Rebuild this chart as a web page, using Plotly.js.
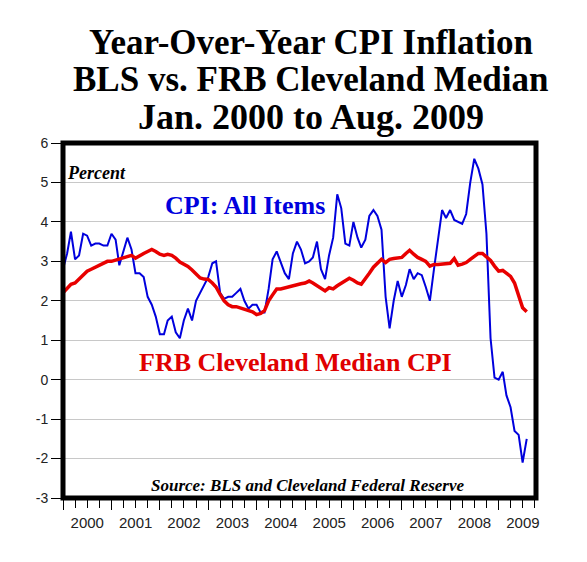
<!DOCTYPE html>
<html>
<head>
<meta charset="utf-8">
<script src="https://cdn.plot.ly/plotly-3.0.1.min.js"></script>
<style>html,body{margin:0;padding:0;background:#fff;}#chart{width:587px;height:562px;}</style>
</head>
<body>
<div id="chart"></div>
<script>
// Monthly year-over-year % change, Jan 2000 .. Aug 2009
const startYear = 2000;
const cpiAllItems = [
  2.8, 3.2, 3.75, 3.05, 3.15, 3.7, 3.65, 3.4, 3.45, 3.45, 3.4, 3.4,
  3.7, 3.55, 2.9, 3.25, 3.6, 3.3, 2.7, 2.7, 2.6, 2.1, 1.9, 1.6,
  1.15, 1.15, 1.5, 1.6, 1.2, 1.05, 1.5, 1.8, 1.5, 2.0, 2.2, 2.4,
  2.6, 2.95, 3.0, 2.2, 2.05, 2.1, 2.1, 2.2, 2.3, 2.0, 1.8, 1.9,
  1.9, 1.7, 1.7, 2.3, 3.05, 3.25, 3.0, 2.7, 2.55, 3.2, 3.5, 3.3,
  2.95, 3.0, 3.1, 3.5, 2.8, 2.55, 3.15, 3.6, 4.7, 4.35, 3.45, 3.4,
  4.0, 3.6, 3.35, 3.55, 4.15, 4.3, 4.15, 3.8, 2.1, 1.3, 2.0, 2.5,
  2.1, 2.4, 2.8, 2.55, 2.7, 2.65, 2.35, 2.0, 2.8, 3.5, 4.3, 4.1,
  4.3, 4.05, 4.0, 3.95, 4.2, 5.0, 5.6, 5.35, 4.95, 3.7, 1.05, 0.05,
  0.0, 0.2, -0.4, -0.7, -1.3, -1.4, -2.1, -1.5
];
const medianCPI = [
  2.2, 2.3, 2.42, 2.45, 2.55, 2.65, 2.75, 2.8, 2.85, 2.9, 2.97, 3.0,
  3.0, 3.03, 3.05, 3.1, 3.13, 3.15, 3.08, 3.15, 3.2, 3.25, 3.3, 3.25,
  3.18, 3.15, 3.18, 3.15, 3.08, 2.98, 2.92, 2.87, 2.78, 2.68, 2.58, 2.55,
  2.54, 2.45, 2.35, 2.16, 2.0, 1.9, 1.85, 1.85, 1.82, 1.8, 1.75, 1.72,
  1.65, 1.68, 1.75, 2.0, 2.15, 2.3, 2.3, 2.33, 2.35, 2.38, 2.4, 2.43,
  2.45, 2.5, 2.45, 2.38, 2.3, 2.25, 2.33, 2.3, 2.38, 2.45, 2.52, 2.57,
  2.52, 2.45, 2.42, 2.55, 2.7, 2.85, 2.95, 3.05, 2.97, 3.05, 3.07, 3.08,
  3.1, 3.2, 3.28, 3.18, 3.1, 3.05, 3.0, 2.88, 2.92, 2.92, 2.93, 2.95,
  2.95, 3.07, 2.9, 2.93, 2.97, 3.05, 3.12, 3.2, 3.2, 3.1, 3.02, 2.88,
  2.75, 2.77, 2.7, 2.62, 2.45, 2.15, 1.82, 1.72
];
const yTickVals = [-3, -2, -1, 0, 1, 2, 3, 4, 5, 6];
const titleLines = ['Year-Over-Year CPI Inflation', 'BLS vs. FRB Cleveland Median', 'Jan. 2000 to Aug. 2009'];

const months = cpiAllItems.map((_, i) => {
  const y = startYear + Math.floor(i / 12);
  const m = (i % 12) + 1;
  return y + '-' + (m < 10 ? '0' + m : m) + '-01';
});

const serif = 'Liberation Serif, Times New Roman, serif';
const sans = 'Liberation Sans, Arial, sans-serif';

const traces = [
  {x: months, y: cpiAllItems, type: 'scatter', mode: 'lines', name: 'CPI: All Items',
   line: {color: '#0000dd', width: 2}, hoverinfo: 'x+y'},
  {x: months, y: medianCPI, type: 'scatter', mode: 'lines', name: 'FRB Cleveland Median CPI',
   line: {color: '#e80000', width: 3.5}, hoverinfo: 'x+y'}
];

const titleY = [1.283, 1.18, 1.072];
const titleSize = [35, 35, 36];
const annotations = titleLines.map((t, i) => ({
  text: '<b>' + t + '</b>', xref: 'paper', yref: 'paper', x: 0.524, y: titleY[i],
  xanchor: 'center', yanchor: 'middle', showarrow: false,
  font: {family: serif, size: titleSize[i], color: '#000'}
}));
annotations.push(
  {text: '<b><i>Percent</i></b>', xref: 'paper', yref: 'paper', x: 0.004, y: 0.915,
   xanchor: 'left', yanchor: 'middle', showarrow: false, font: {family: serif, size: 18, color: '#000'}},
  {text: '<b>CPI: All Items</b>', xref: 'paper', yref: 'paper', x: 0.384, y: 0.825,
   xanchor: 'center', yanchor: 'middle', showarrow: false, font: {family: serif, size: 26, color: '#0000dd'}},
  {text: '<b>FRB Cleveland Median CPI</b>', xref: 'paper', yref: 'paper', x: 0.491, y: 0.383,
   xanchor: 'center', yanchor: 'middle', showarrow: false, font: {family: serif, size: 26, color: '#e00000'}},
  {text: '<b><i>Source: BLS and Cleveland Federal Reserve</i></b>', xref: 'paper', yref: 'paper', x: 0.517, y: 0.034,
   xanchor: 'center', yanchor: 'middle', showarrow: false, font: {family: serif, size: 17, color: '#000'}}
);

const layout = {
  width: 587, height: 562,
  margin: {l: 63, r: 50.5, t: 143, b: 64},
  paper_bgcolor: '#fff', plot_bgcolor: '#fff',
  showlegend: false,
  xaxis: {
    type: 'date', range: ['2000-01-01', '2009-10-10'],
    tick0: '2000-01-01', dtick: 'M12', tickformat: '%Y', ticklabelmode: 'period',
    ticks: 'outside', ticklen: 11, tickwidth: 1, tickcolor: '#000',
    minor: {dtick: 'M3', ticks: 'outside', ticklen: 9, tickwidth: 1, tickcolor: '#000', showgrid: false},
    showgrid: false, zeroline: false, showline: false,
    tickfont: {family: sans, size: 15, color: '#222'}
  },
  yaxis: {
    range: [-3, 6], tickvals: yTickVals, ticktext: yTickVals.map(String),
    ticks: 'outside', ticklen: 11, tickwidth: 1, tickcolor: '#000',
    showgrid: true, gridcolor: '#c8c8c8', gridwidth: 1, zeroline: false, showline: false,
    tickfont: {family: sans, size: 14, color: '#222'}
  },
  shapes: [
    {type: 'rect', xref: 'paper', yref: 'paper', x0: 0, x1: 1, y0: 0, y1: 1,
     line: {color: '#000', width: 5}, fillcolor: 'rgba(0,0,0,0)', layer: 'above'}
  ],
  annotations: annotations
};

Plotly.newPlot('chart', traces, layout, {staticPlot: true, displayModeBar: false});
</script>
</body>
</html>
